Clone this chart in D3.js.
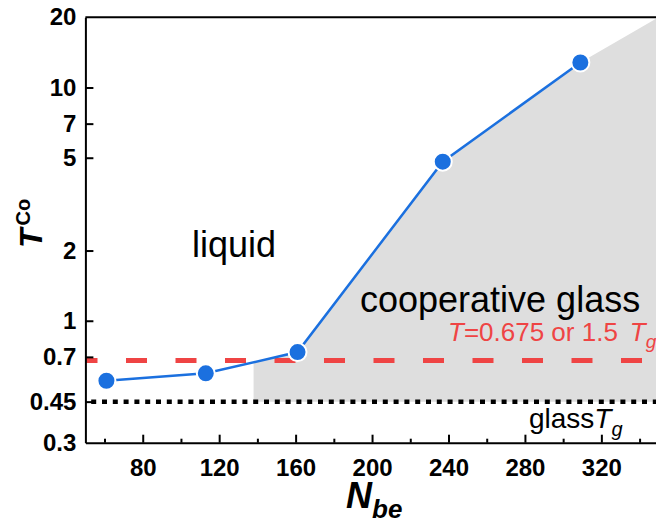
<!DOCTYPE html>
<html>
<head>
<meta charset="utf-8">
<script src="https://cdn.jsdelivr.net/npm/d3@7"></script>
<style>
  body { margin: 0; background: #fff; }
  svg { display: block; font-family: "Liberation Sans", Arial, sans-serif; }
</style>
</head>
<body>
<div id="chart"></div>
<script>
// data
const nbe = [61, 113, 161, 237, 309];
const tco = [0.553, 0.595, 0.734, 4.81, 12.8];

// shaded "cooperative glass" region boundary
const regionN = [138, 161, 237, 309, 350, 350, 138];
const regionT = [0.66, 0.734, 4.81, 12.8, 20, 0.45, 0.45];

const xTicks = [80, 120, 160, 200, 240, 280, 320];
const xMinorTicks = [60, 100, 140, 180, 220, 260, 300, 340];
const yTicks = [0.3, 0.45, 0.7, 1, 2, 5, 7, 10, 20];

const tRef = 0.675;   // red dashed line
const tGlass = 0.45;  // dotted line

const width = 656, height = 525;
const margin = { top: 17.3, left: 85.4 };
const plotW = 573.3, plotH = 425.4;

const svg = d3.select("#chart").append("svg")
  .attr("width", width)
  .attr("height", height);

const g = svg.append("g")
  .attr("transform", "translate(" + margin.left + "," + margin.top + ")");

const x = d3.scaleLinear().domain([50, 350]).range([0, plotW]);
const y = d3.scaleLog().domain([0.3, 20]).range([plotH, 0]);

// shaded region
const region = regionN.map((n, i) => [n, regionT[i]]);
g.append("path")
  .datum(region)
  .attr("fill", "#dedede")
  .attr("d", d3.line().x(d => x(d[0])).y(d => y(d[1])));

// glass Tg dotted line
g.append("line")
  .attr("x1", 0).attr("x2", plotW)
  .attr("y1", y(tGlass)).attr("y2", y(tGlass))
  .attr("stroke", "#000")
  .attr("stroke-width", 4.5)
  .attr("stroke-dasharray", "5,5.8")
  .attr("stroke-dashoffset", 5);

// T = 0.675 dashed line
g.append("line")
  .attr("x1", 0).attr("x2", plotW)
  .attr("y1", y(tRef)).attr("y2", y(tRef))
  .attr("stroke", "#ef4444")
  .attr("stroke-width", 5)
  .attr("stroke-dasharray", "21,28.5")
  .attr("stroke-dashoffset", 8.9);

// data line + markers
const pts = nbe.map((n, i) => [n, tco[i]]);
g.append("path")
  .datum(pts)
  .attr("fill", "none")
  .attr("stroke", "#1b70df")
  .attr("stroke-width", 2.5)
  .attr("d", d3.line().x(d => x(d[0])).y(d => y(d[1])));

g.selectAll("circle.pt")
  .data(pts)
  .join("circle")
  .attr("class", "pt")
  .attr("cx", d => x(d[0]))
  .attr("cy", d => y(d[1]))
  .attr("r", 9)
  .attr("fill", "#1b70df")
  .attr("stroke", "#fff")
  .attr("stroke-width", 2);

// annotations
g.append("text")
  .attr("x", 192 - margin.left)
  .attr("y", 257 - margin.top)
  .attr("font-size", 36)
  .attr("fill", "#000")
  .text("liquid");

g.append("text")
  .attr("x", 360 - margin.left)
  .attr("y", 312 - margin.top)
  .attr("font-size", 36)
  .attr("fill", "#000")
  .text("cooperative glass");

const red = g.append("text")
  .attr("x", 448 - margin.left)
  .attr("y", 341 - margin.top)
  .attr("font-size", 26)
  .attr("fill", "#ef4444");
red.append("tspan").attr("font-style", "italic").text("T");
red.append("tspan").text("=0.675 or 1.5");
red.append("tspan").attr("font-style", "italic").attr("dx", 12).text("T");
red.append("tspan").attr("font-style", "italic").attr("font-size", 19).attr("dy", 7).text("g");

const gl = g.append("text")
  .attr("x", 529 - margin.left)
  .attr("y", 428 - margin.top)
  .attr("font-size", 28)
  .attr("fill", "#000");
gl.append("tspan").text("glass");
gl.append("tspan").attr("font-style", "italic").text("T");
gl.append("tspan").attr("font-style", "italic").attr("font-size", 20).attr("dy", 8).text("g");

// axes
const xAxis = g.append("g")
  .attr("transform", "translate(0," + plotH + ")")
  .call(d3.axisBottom(x).tickValues(xTicks).tickSize(-8).tickSizeOuter(0).tickPadding(16));

const xMinor = g.append("g")
  .attr("transform", "translate(0," + plotH + ")")
  .call(d3.axisBottom(x).tickValues(xMinorTicks).tickSize(-4).tickSizeOuter(0).tickFormat(""));
xMinor.select(".domain").remove();

const yAxis = g.append("g")
  .call(d3.axisLeft(y).tickValues(yTicks).tickSize(-8).tickSizeOuter(0).tickPadding(9)
    .tickFormat(d => String(d)));

[xAxis, xMinor, yAxis].forEach(a => {
  a.selectAll("line").attr("stroke", "#000").attr("stroke-width", 2);
  a.selectAll(".domain").attr("stroke", "#000").attr("stroke-width", 2);
  a.selectAll("text")
    .attr("font-family", "Liberation Sans, Arial, sans-serif")
    .attr("font-size", 24)
    .attr("font-weight", "bold")
    .attr("fill", "#000");
});
// no tick marks at the frame corners
yAxis.selectAll(".tick").filter(d => d === 0.3 || d === 20).select("line").remove();

// top and right frame
g.append("line")
  .attr("x1", 0).attr("x2", plotW).attr("y1", 0).attr("y2", 0)
  .attr("stroke", "#000").attr("stroke-width", 2);
g.append("line")
  .attr("x1", plotW).attr("x2", plotW).attr("y1", 0).attr("y2", plotH)
  .attr("stroke", "#000").attr("stroke-width", 2);

// axis titles
const xt = svg.append("text")
  .attr("x", 346)
  .attr("y", 508)
  .attr("font-weight", "bold")
  .attr("font-style", "italic")
  .attr("fill", "#000");
xt.append("tspan").attr("font-size", 36).text("N");
xt.append("tspan").attr("font-size", 26).attr("dy", 10).text("be");

const yt = svg.append("text")
  .attr("transform", "translate(42,248) rotate(-90)")
  .attr("font-weight", "bold")
  .attr("fill", "#000");
yt.append("tspan").attr("font-size", 32).attr("font-style", "italic").text("T");
yt.append("tspan").attr("font-size", 20).attr("dx", 3).attr("dy", -12).text("Co");
</script>
</body>
</html>
